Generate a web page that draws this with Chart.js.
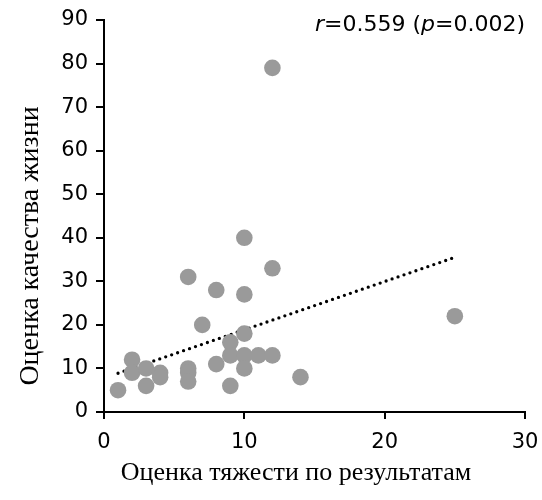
<!DOCTYPE html>
<html>
<head>
<meta charset="utf-8">
<script src="https://cdn.jsdelivr.net/npm/chart.js@4"></script>
<style>
  html, body { margin: 0; padding: 0; background: #fff; }
  #wrap { width: 542px; height: 500px; }
</style>
</head>
<body>
<div id="wrap"><canvas id="chart" width="542" height="500"></canvas></div>
<script>
// Severity score (x) vs. quality-of-life score (y), one point per patient
const severity = [1, 2, 2, 3, 3, 4, 4, 6, 6, 6, 6, 7, 8, 8, 9, 9, 9, 10, 10, 10, 10, 10, 11, 12, 12, 12, 14, 25];
const quality  = [5, 12, 9, 10, 6, 9, 8, 31, 10, 9, 7, 20, 28, 11, 16, 13, 6, 40, 27, 18, 13, 10, 13, 79, 33, 13, 8, 22];

// Regression line end points, as drawn in the figure
const trendX = [1, 25];
const trendY = [8.9, 35.5];

const xTicks = [0, 10, 20, 30];
const yTicks = [0, 10, 20, 30, 40, 50, 60, 70, 80, 90];

const xTitle = 'Оценка тяжести по результатам';
const yTitle = 'Оценка качества жизни';
const statsParts = [
  { text: 'r', italic: true },
  { text: '=0.559 (', italic: false },
  { text: 'p', italic: true },
  { text: '=0.002)', italic: false }
];

const tickFont = '"DejaVu Sans", sans-serif';
const titleFont = '"Liberation Serif", "DejaVu Serif", serif';

// Draws the axis titles and the r / p annotation
const textPlugin = {
  id: 'textPlugin',
  afterDraw(chart) {
    const ctx = chart.ctx;
    const area = chart.chartArea;
    ctx.save();
    ctx.fillStyle = '#000';
    ctx.textAlign = 'center';
    ctx.textBaseline = 'middle';

    // x title
    ctx.font = '26px ' + titleFont;
    ctx.fillText(xTitle, 296, 473);

    // y title, rotated
    ctx.save();
    ctx.font = '28px ' + titleFont;
    ctx.translate(31, 246);
    ctx.rotate(-Math.PI / 2);
    ctx.fillText(yTitle, 0, 0);
    ctx.restore();

    // stats annotation, right aligned to the plot
    ctx.textAlign = 'left';
    ctx.textBaseline = 'alphabetic';
    const fontFor = p => (p.italic ? 'italic ' : '') + '22px ' + tickFont;
    let total = 0;
    statsParts.forEach(p => { ctx.font = fontFor(p); total += ctx.measureText(p.text).width; });
    let x = area.right - total;
    statsParts.forEach(p => {
      ctx.font = fontFor(p);
      ctx.fillText(p.text, x, 31);
      x += ctx.measureText(p.text).width;
    });
    ctx.restore();
  }
};

const points = severity.map((v, i) => ({ x: v, y: quality[i] }));
const trend = trendX.map((v, i) => ({ x: v, y: trendY[i] }));

new Chart(document.getElementById('chart'), {
  type: 'scatter',
  data: {
    datasets: [
      {
        data: points,
        backgroundColor: '#9a9a9a',
        borderColor: '#9a9a9a',
        borderWidth: 0,
        pointRadius: 8.3,
        pointHoverRadius: 8.3
      },
      {
        type: 'line',
        data: trend,
        borderColor: '#000',
        borderWidth: 3.3,
        borderDash: [0, 6.3],
        borderCapStyle: 'round',
        pointRadius: 0,
        fill: false
      }
    ]
  },
  options: {
    responsive: false,
    animation: false,
    events: [],
    layout: { padding: { top: 20, right: 17, left: 0, bottom: 0 } },
    plugins: {
      legend: { display: false },
      tooltip: { enabled: false }
    },
    scales: {
      x: {
        type: 'linear',
        min: 0,
        max: 30,
        afterBuildTicks: scale => { scale.ticks = xTicks.map(v => ({ value: v })); },
        afterFit: scale => {
          scale.height = 88;
          // labels may overhang the plot edges, like in the figure
          scale.paddingLeft = 0;
          scale.paddingRight = 0;
        },
        border: { color: '#000', width: 2 },
        grid: { drawOnChartArea: false, color: '#000', lineWidth: 2, tickLength: 7 },
        ticks: { color: '#000', font: { family: tickFont, size: 21 }, padding: 11, maxRotation: 0 }
      },
      y: {
        type: 'linear',
        min: 0,
        max: 90,
        afterBuildTicks: scale => { scale.ticks = yTicks.map(v => ({ value: v })); },
        afterFit: scale => {
          scale.width = 104;
          scale.paddingTop = 0;
          scale.paddingBottom = 0;
        },
        border: { color: '#000', width: 2 },
        grid: { drawOnChartArea: false, color: '#000', lineWidth: 2, tickLength: 8 },
        ticks: { color: '#000', font: { family: tickFont, size: 21 }, padding: 8 }
      }
    }
  },
  plugins: [textPlugin]
});
</script>
</body>
</html>
